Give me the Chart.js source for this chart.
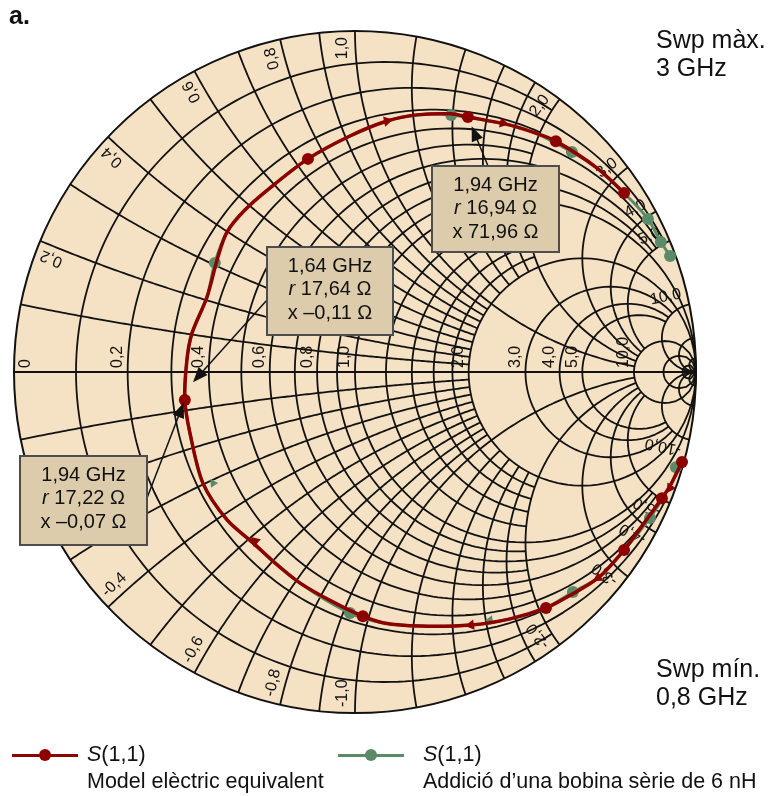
<!DOCTYPE html>
<html>
<head>
<meta charset="utf-8">
<script src="https://cdn.jsdelivr.net/npm/chart.js@4.4.0/dist/chart.umd.min.js"></script>
<style>
body { margin: 0; background: #fff; font-family: "Liberation Sans", Arial, sans-serif; color: #111; }
#wrap { position: relative; width: 768px; height: 796px; overflow: hidden; }
#wrap canvas { position: absolute; left: 0; top: 0; }
.t { position: absolute; white-space: nowrap; }
.sym { position: absolute; height: 3px; }
.dot { position: absolute; width: 12px; height: 12px; border-radius: 50%; }
</style>
</head>
<body>
<div id="wrap">
  <canvas id="smith" width="768" height="796"></canvas>
  <div class="t" style="left:9px;top:1px;font-weight:bold;font-size:25px">a.</div>
  <div class="t" style="left:656px;top:25px;font-size:25px;line-height:28px">Swp màx.<br>3 GHz</div>
  <div class="t" style="left:656px;top:654px;font-size:25px;line-height:28px">Swp mín.<br>0,8 GHz</div>

  <div class="sym" style="left:12px;top:754px;width:66px;background:#8C0000"></div>
  <div class="dot" style="left:39px;top:749px;background:#8C0000"></div>
  <div class="t" style="left:87px;top:741px;font-size:21.5px;line-height:27px"><i>S</i>(1,1)<br>Model elèctric equivalent</div>

  <div class="sym" style="left:338px;top:754px;width:66px;background:#5A8A68"></div>
  <div class="dot" style="left:365px;top:749px;background:#5A8A68"></div>
  <div class="t" style="left:423px;top:741px;font-size:21.5px;line-height:27px"><i>S</i>(1,1)<br>Addició d’una bobina sèrie de 6 nH</div>
</div>
<script>
// grid values of the Smith chart (normalised resistance / reactance)
const rGrid = [0.1, 0.2, 0.3, 0.4, 0.5, 0.6, 0.7, 0.8, 0.9, 1.0, 1.2, 1.4, 1.6, 1.8, 2.0, 3.0, 4.0, 5.0, 10, 20, 50];
const xGrid = [0.1, 0.2, 0.3, 0.4, 0.5, 0.6, 0.7, 0.8, 0.9, 1.0, 1.2, 1.4, 1.6, 1.8, 2.0, 3.0, 4.0, 5.0, 10, 20, 50];

// tick labels
const axisTicks = [0, 0.2, 0.4, 0.6, 0.8, 1.0, 2.0, 3.0, 4.0, 5.0, 10.0];
const axisTickText = ['0', '0,2', '0,4', '0,6', '0,8', '1,0', '2,0', '3,0', '4,0', '5,0', '10,0'];
const rimTicks = [0.2, 0.4, 0.6, 0.8, 1.0, 2.0, 3.0, 4.0, 5.0, 10.0, -0.2, -0.4, -0.6, -0.8, -1.0, -2.0, -3.0, -4.0, -5.0, -10.0];
const rimTickText = ['0,2', '0,4', '0,6', '0,8', '1,0', '2,0', '3,0', '4,0', '5,0', '10,0',
  '-0,2', '-0,4', '-0,6', '-0,8', '-1,0', '-2,0', '-3,0', '-4,0', '-5,0', '-10,0'];

// S(1,1) model (reflection coefficient, real / imaginary), 0.8 -> 3 GHz
const modelRe = [0.959, 0.924, 0.900, 0.850, 0.789, 0.713, 0.622, 0.560, 0.455, 0.340, 0.191, 0.085, 0.023, -0.065,
  -0.161, -0.235, -0.299, -0.375, -0.446, -0.484, -0.499, -0.493, -0.478, -0.434, -0.402, -0.375, -0.323, -0.249,
  -0.138, -0.015, 0.094, 0.182, 0.279, 0.331, 0.455, 0.528, 0.589, 0.710, 0.789];
const modelIm = [-0.264, -0.334, -0.370, -0.440, -0.522, -0.604, -0.660, -0.692, -0.724, -0.742, -0.745, -0.736, -0.716, -0.674,
  -0.619, -0.560, -0.501, -0.434, -0.326, -0.179, -0.082, 0.035, 0.114, 0.220, 0.337, 0.411, 0.475, 0.540,
  0.625, 0.692, 0.736, 0.754, 0.757, 0.748, 0.724, 0.701, 0.677, 0.598, 0.525];
const modelMarkRe = [0.959, 0.900, 0.789, 0.560, 0.023, -0.499, -0.138, 0.331, 0.589, 0.789];
const modelMarkIm = [-0.264, -0.370, -0.522, -0.692, -0.716, -0.082, 0.625, 0.748, 0.677, 0.525];
const modelArrowRe = [0.924, 0.713, 0.340, -0.293, 0.094, 0.434];
const modelArrowIm = [-0.340, -0.604, -0.742, -0.496, 0.736, 0.730];

// S(1,1) with 6 nH series coil
const coilRe = [0.962, 0.924, 0.865, 0.789, 0.713, 0.639, 0.560, 0.455, 0.340, 0.191, 0.085, -0.015, -0.161, -0.299,
  -0.375, -0.446, -0.484, -0.499, -0.493, -0.478, -0.434, -0.411, -0.375, -0.323, -0.249, -0.138, -0.015, 0.094,
  0.182, 0.282, 0.455, 0.528, 0.636, 0.710, 0.789, 0.859, 0.897, 0.924];
const coilIm = [-0.252, -0.334, -0.428, -0.522, -0.604, -0.645, -0.692, -0.724, -0.742, -0.745, -0.736, -0.707, -0.619, -0.501,
  -0.434, -0.326, -0.179, -0.082, 0.035, 0.114, 0.220, 0.320, 0.411, 0.475, 0.540, 0.625, 0.692, 0.736,
  0.754, 0.754, 0.724, 0.701, 0.645, 0.598, 0.525, 0.449, 0.381, 0.340];
const coilMarkRe = [0.941, 0.865, 0.639, -0.015, -0.411, 0.282, 0.636, 0.859, 0.897, 0.924];
const coilMarkIm = [-0.279, -0.428, -0.645, -0.707, 0.320, 0.754, 0.645, 0.449, 0.381, 0.340];
const coilArrowRe = [-0.416, 0.396];
const coilArrowIm = [-0.326, -0.727];

// marker read-outs
const noteFreq = ['1,94 GHz', '1,64 GHz', '1,94 GHz'];
const noteR = ['16,94 Ω', '17,64 Ω', '17,22 Ω'];
const noteX = ['71,96 Ω', '–0,11 Ω', '–0,07 Ω'];
const noteRe = [0.331, -0.475, -0.499];
const noteIm = [0.748, -0.030, -0.082];

// box layout in pixels
const noteBoxes = [
  { left: 432, top: 166, w: 127, h: 86, tail: [488, 166], gap: 10 },
  { left: 267, top: 247, w: 126, h: 88, tail: [267, 300], gap: 0 },
  { left: 20, top: 456, w: 127, h: 89, tail: [147, 498], gap: 3 }
];

const RED = '#8C0000';
const GREEN = '#5A8A68';
const FONT = '"Liberation Sans", Arial, sans-serif';

function gamma(r, x) {
  const d = (r + 1) * (r + 1) + x * x;
  return [(r * r + x * x - 1) / d, 2 * x / d];
}

// how far a resistance circle runs in reactance
function rReach(v) {
  if (v >= 10) return Infinity;
  if (v === 1 || v === 2) return Infinity;
  if (v >= 3) return 10;
  if (v > 1) return 2;
  return Math.round(v * 10) % 2 ? 2 : 5;
}
// how far a reactance arc runs in resistance
function xReach(v) {
  if (v >= 10) return Infinity;
  if (v >= 2) return 10;
  if (v === 1) return 10;
  return 2;
}

function pts(re, im) {
  return re.map((v, i) => ({ x: v, y: im[i] }));
}

function headings(re, im, pathRe, pathIm) {
  return re.map((v, i) => {
    let best = 0, bd = 1e9;
    for (let k = 0; k < pathRe.length - 1; k++) {
      const mx = (pathRe[k] + pathRe[k + 1]) / 2, my = (pathIm[k] + pathIm[k + 1]) / 2;
      const d = Math.hypot(mx - v, my - im[i]);
      if (d < bd) { bd = d; best = k; }
    }
    const dr = pathRe[best + 1] - pathRe[best], di = pathIm[best + 1] - pathIm[best];
    return Math.atan2(dr, di) * 180 / Math.PI;
  });
}

const smithGrid = {
  id: 'smithGrid',
  beforeDatasetsDraw(chart) {
    const ctx = chart.ctx, sx = chart.scales.x, sy = chart.scales.y;
    const P = (g) => [sx.getPixelForValue(g[0]), sy.getPixelForValue(g[1])];
    const cx = sx.getPixelForValue(0), cy = sy.getPixelForValue(0);
    const R = sx.getPixelForValue(1) - cx;
    ctx.save();
    ctx.fillStyle = '#F5E1C3';
    ctx.beginPath(); ctx.arc(cx, cy, R, 0, Math.PI * 2); ctx.fill();

    ctx.strokeStyle = '#121212';
    ctx.lineWidth = 1.8;
    ctx.lineJoin = 'round';
    const line = (list) => {
      ctx.beginPath();
      list.forEach((g, i) => {
        const [a, b] = P(g);
        if (i) ctx.lineTo(a, b); else ctx.moveTo(a, b);
      });
      ctx.stroke();
    };
    const N = 200;
    rGrid.forEach((r) => {
      const lim = Math.atan(rReach(r));
      const list = [];
      for (let i = 0; i <= N; i++) list.push(gamma(r, Math.tan(-lim + 2 * lim * i / N)));
      line(list);
    });
    xGrid.forEach((x) => {
      const lim = Math.atan(xReach(x));
      [1, -1].forEach((s) => {
        const list = [];
        for (let i = 0; i <= N; i++) list.push(gamma(Math.tan(lim * i / N), s * x));
        line(list);
      });
    });
    line([[-1, 0], [1, 0]]);
    ctx.lineWidth = 2;
    ctx.beginPath(); ctx.arc(cx, cy, R, 0, Math.PI * 2); ctx.stroke();

    // labels
    ctx.fillStyle = '#111';
    ctx.font = '16px ' + FONT;
    axisTicks.forEach((v, i) => {
      const xc = P(gamma(v, 0))[0];
      ctx.save();
      ctx.translate(v === 0 ? xc + 12 : xc - 10, cy - 4);
      ctx.rotate(-Math.PI / 2);
      ctx.textAlign = 'left';
      ctx.textBaseline = 'middle';
      ctx.fillText(axisTickText[i], 0, 0);
      ctx.restore();
    });
    rimTicks.forEach((v, i) => {
      const g = gamma(0, v);
      const th = Math.atan2(g[1], g[0]);
      const [ex, ey] = P(g);
      const w = ctx.measureText(rimTickText[i]).width;
      const rx = Math.cos(th), ry = -Math.sin(th);
      const up = v > 0;
      const tx = up ? -Math.sin(th) : Math.sin(th), ty = up ? -Math.cos(th) : Math.cos(th);
      const off = 6 + w / 2;
      const lx = ex - off * rx + 12 * tx, ly = ey - off * ry + 12 * ty;
      ctx.save();
      ctx.translate(lx, ly);
      ctx.rotate(up ? -th : Math.PI - th);
      ctx.textAlign = 'center';
      ctx.textBaseline = 'middle';
      ctx.fillText(rimTickText[i], 0, 0);
      ctx.restore();
    });
    ctx.restore();
  }
};

const notes = {
  id: 'notes',
  afterDatasetsDraw(chart) {
    const ctx = chart.ctx, sx = chart.scales.x, sy = chart.scales.y;
    ctx.save();
    noteFreq.forEach((f, i) => {
      const b = noteBoxes[i];
      const tx = sx.getPixelForValue(noteRe[i]), ty = sy.getPixelForValue(noteIm[i]);
      const [ax, ay] = b.tail;
      let dx = tx - ax, dy = ty - ay;
      const L = Math.hypot(dx, dy); dx /= L; dy /= L;
      const hx = tx - dx * b.gap, hy = ty - dy * b.gap;
      ctx.strokeStyle = '#111'; ctx.lineWidth = 1.5;
      ctx.beginPath(); ctx.moveTo(ax, ay); ctx.lineTo(hx - dx * 10, hy - dy * 10); ctx.stroke();
      ctx.fillStyle = '#111';
      ctx.beginPath();
      ctx.moveTo(hx, hy);
      ctx.lineTo(hx - dx * 15 - dy * 6, hy - dy * 15 + dx * 6);
      ctx.lineTo(hx - dx * 15 + dy * 6, hy - dy * 15 - dx * 6);
      ctx.closePath(); ctx.fill();

      ctx.fillStyle = '#DDCCAC';
      ctx.fillRect(b.left, b.top, b.w, b.h);
      ctx.strokeStyle = '#4d4d4d'; ctx.lineWidth = 2;
      ctx.strokeRect(b.left, b.top, b.w, b.h);

      const mx = b.left + b.w / 2;
      ctx.fillStyle = '#111';
      ctx.textBaseline = 'middle';
      ctx.textAlign = 'center';
      ctx.font = '20px ' + FONT;
      ctx.fillText(f, mx, b.top + 19);
      ctx.fillText('x ' + noteX[i], mx, b.top + 19 + 47);
      ctx.textAlign = 'left';
      ctx.font = 'italic 20px ' + FONT;
      const w1 = ctx.measureText('r').width;
      ctx.font = '20px ' + FONT;
      const rest = ' ' + noteR[i];
      const w2 = ctx.measureText(rest).width;
      const x0 = mx - (w1 + w2) / 2;
      ctx.font = 'italic 20px ' + FONT;
      ctx.fillText('r', x0, b.top + 19 + 23.5);
      ctx.font = '20px ' + FONT;
      ctx.fillText(rest, x0 + w1, b.top + 19 + 23.5);
    });
    ctx.restore();
  }
};

new Chart(document.getElementById('smith'), {
  type: 'scatter',
  data: {
    datasets: [
      { data: pts(modelArrowRe, modelArrowIm), pointStyle: 'triangle', pointRadius: 6,
        rotation: headings(modelArrowRe, modelArrowIm, modelRe, modelIm),
        backgroundColor: RED, borderColor: RED, borderWidth: 0, order: 0, clip: false },
      { data: pts(modelMarkRe, modelMarkIm), pointRadius: 6, backgroundColor: RED, borderColor: RED,
        borderWidth: 0, order: 1, clip: false },
      { data: pts(modelRe, modelIm), showLine: true, pointRadius: 0, borderColor: RED, borderWidth: 3.5,
        tension: 0.3, order: 2, clip: false },
      { data: pts(coilArrowRe, coilArrowIm), pointStyle: 'triangle', pointRadius: 5,
        rotation: headings(coilArrowRe, coilArrowIm, coilRe, coilIm),
        backgroundColor: GREEN, borderColor: GREEN, borderWidth: 0, order: 3, clip: false },
      { data: pts(coilMarkRe, coilMarkIm), pointRadius: 6, backgroundColor: GREEN, borderColor: GREEN,
        borderWidth: 0, order: 4, clip: false },
      { data: pts(coilRe, coilIm), showLine: true, pointRadius: 0, borderColor: GREEN, borderWidth: 3,
        tension: 0.3, order: 5, clip: false }
    ]
  },
  options: {
    responsive: false,
    animation: false,
    devicePixelRatio: 1,
    events: [],
    layout: { padding: { left: 14, right: 72, top: 31, bottom: 83 } },
    scales: {
      x: { type: 'linear', min: -1, max: 1, display: false },
      y: { type: 'linear', min: -1, max: 1, display: false }
    },
    plugins: { legend: { display: false }, tooltip: { enabled: false } }
  },
  plugins: [smithGrid, notes]
});
</script>
</body>
</html>
